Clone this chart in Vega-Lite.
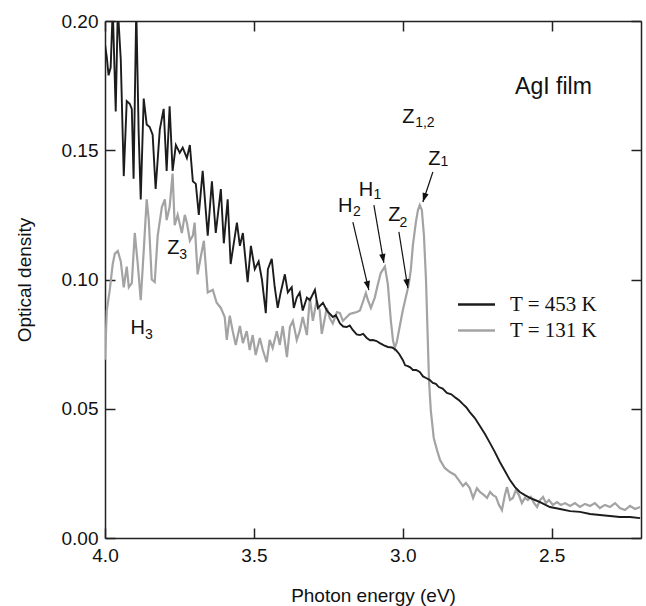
{
  "$schema": "https://vega.github.io/schema/vega-lite/v6.json",
  "width": 536,
  "height": 517,
  "autosize": {"type": "none"},
  "padding": {"left": 105, "top": 21, "right": 5, "bottom": 68},
  "background": "white",
  "config": {
    "view": {"stroke": null},
    "axis": {
      "grid": false,
      "domainColor": "#222",
      "domainWidth": 1.5,
      "tickColor": "#222",
      "tickWidth": 1.5,
      "tickSize": -10,
      "labelFont": "Liberation Sans",
      "labelFontSize": 19,
      "labelColor": "#111",
      "labelFlush": false,
      "titleFont": "Liberation Sans",
      "titleFontSize": 19,
      "titleFontWeight": "normal",
      "titleColor": "#111"
    }
  },
  "datasets": {
    "hot": [
      {"E":4.000,"OD":0.191},{"E":3.994,"OD":0.186},{"E":3.988,"OD":0.179},{"E":3.981,"OD":0.182},{"E":3.974,"OD":0.205},
      {"E":3.964,"OD":0.165},{"E":3.957,"OD":0.205},{"E":3.947,"OD":0.185},{"E":3.937,"OD":0.140},{"E":3.927,"OD":0.169},
      {"E":3.917,"OD":0.168},{"E":3.910,"OD":0.166},{"E":3.904,"OD":0.139},{"E":3.895,"OD":0.205},{"E":3.887,"OD":0.157},
      {"E":3.880,"OD":0.131},{"E":3.870,"OD":0.170},{"E":3.860,"OD":0.160},{"E":3.850,"OD":0.159},{"E":3.840,"OD":0.156},
      {"E":3.830,"OD":0.135},{"E":3.816,"OD":0.158},{"E":3.803,"OD":0.166},{"E":3.793,"OD":0.142},{"E":3.783,"OD":0.167},
      {"E":3.773,"OD":0.142},{"E":3.762,"OD":0.152},{"E":3.749,"OD":0.149},{"E":3.739,"OD":0.151},{"E":3.725,"OD":0.147},
      {"E":3.715,"OD":0.152},{"E":3.705,"OD":0.138},{"E":3.695,"OD":0.137},{"E":3.685,"OD":0.125},{"E":3.672,"OD":0.142},
      {"E":3.655,"OD":0.117},{"E":3.641,"OD":0.138},{"E":3.628,"OD":0.118},{"E":3.611,"OD":0.135},{"E":3.601,"OD":0.114},
      {"E":3.588,"OD":0.131},{"E":3.578,"OD":0.106},{"E":3.557,"OD":0.122},{"E":3.547,"OD":0.113},{"E":3.537,"OD":0.118},
      {"E":3.521,"OD":0.099},{"E":3.510,"OD":0.113},{"E":3.497,"OD":0.104},{"E":3.484,"OD":0.107},{"E":3.473,"OD":0.100},
      {"E":3.460,"OD":0.087},{"E":3.453,"OD":0.104},{"E":3.440,"OD":0.108},{"E":3.430,"OD":0.097},{"E":3.420,"OD":0.089},
      {"E":3.410,"OD":0.095},{"E":3.396,"OD":0.102},{"E":3.386,"OD":0.095},{"E":3.373,"OD":0.097},{"E":3.366,"OD":0.089},
      {"E":3.356,"OD":0.093},{"E":3.346,"OD":0.095},{"E":3.336,"OD":0.088},{"E":3.322,"OD":0.093},{"E":3.312,"OD":0.092},
      {"E":3.295,"OD":0.096},{"E":3.285,"OD":0.089},{"E":3.268,"OD":0.091},{"E":3.255,"OD":0.088},{"E":3.235,"OD":0.0855},
      {"E":3.225,"OD":0.0862},{"E":3.211,"OD":0.083},{"E":3.200,"OD":0.0818},{"E":3.188,"OD":0.0816},{"E":3.178,"OD":0.0822},
      {"E":3.168,"OD":0.0805},{"E":3.155,"OD":0.0788},{"E":3.144,"OD":0.0785},{"E":3.133,"OD":0.0790},{"E":3.121,"OD":0.0774},
      {"E":3.110,"OD":0.0765},{"E":3.100,"OD":0.0766},{"E":3.088,"OD":0.0762},{"E":3.077,"OD":0.0754},{"E":3.063,"OD":0.0745},
      {"E":3.050,"OD":0.0739},{"E":3.036,"OD":0.0737},{"E":3.023,"OD":0.0727},{"E":3.012,"OD":0.0712},{"E":3.000,"OD":0.0689},
      {"E":2.992,"OD":0.0668},{"E":2.983,"OD":0.0665},{"E":2.975,"OD":0.0660},{"E":2.966,"OD":0.065},{"E":2.955,"OD":0.0650},
      {"E":2.943,"OD":0.0642},{"E":2.932,"OD":0.0625},{"E":2.922,"OD":0.0619},{"E":2.910,"OD":0.0612},{"E":2.899,"OD":0.060},
      {"E":2.889,"OD":0.0596},{"E":2.879,"OD":0.0584},{"E":2.866,"OD":0.0578},{"E":2.852,"OD":0.0561},{"E":2.837,"OD":0.0556},
      {"E":2.822,"OD":0.0542},{"E":2.810,"OD":0.0532},{"E":2.798,"OD":0.0518},{"E":2.787,"OD":0.0506},{"E":2.775,"OD":0.0487},
      {"E":2.758,"OD":0.0464},{"E":2.741,"OD":0.0433},{"E":2.724,"OD":0.0402},{"E":2.707,"OD":0.0367},{"E":2.691,"OD":0.0333},
      {"E":2.674,"OD":0.0294},{"E":2.657,"OD":0.0259},{"E":2.640,"OD":0.0224},{"E":2.623,"OD":0.0197},{"E":2.607,"OD":0.0178},
      {"E":2.590,"OD":0.0166},{"E":2.573,"OD":0.0155},{"E":2.556,"OD":0.0147},{"E":2.539,"OD":0.0139},{"E":2.506,"OD":0.0120},
      {"E":2.472,"OD":0.0112},{"E":2.438,"OD":0.0104},{"E":2.405,"OD":0.0101},{"E":2.371,"OD":0.0093},{"E":2.338,"OD":0.0089},
      {"E":2.304,"OD":0.0085},{"E":2.271,"OD":0.0081},{"E":2.237,"OD":0.0081},{"E":2.203,"OD":0.0077}
    ],
    "cold": [
      {"E":4.000,"OD":0.069},{"E":3.994,"OD":0.088},{"E":3.984,"OD":0.096},{"E":3.974,"OD":0.106},{"E":3.967,"OD":0.110},
      {"E":3.957,"OD":0.111},{"E":3.947,"OD":0.107},{"E":3.937,"OD":0.097},{"E":3.927,"OD":0.105},{"E":3.920,"OD":0.097},
      {"E":3.910,"OD":0.0986},{"E":3.900,"OD":0.118},{"E":3.890,"OD":0.106},{"E":3.880,"OD":0.092},{"E":3.870,"OD":0.111},
      {"E":3.860,"OD":0.131},{"E":3.853,"OD":0.123},{"E":3.843,"OD":0.100},{"E":3.833,"OD":0.099},{"E":3.823,"OD":0.117},
      {"E":3.809,"OD":0.128},{"E":3.799,"OD":0.131},{"E":3.793,"OD":0.123},{"E":3.783,"OD":0.128},{"E":3.773,"OD":0.141},
      {"E":3.766,"OD":0.121},{"E":3.756,"OD":0.125},{"E":3.742,"OD":0.118},{"E":3.732,"OD":0.125},{"E":3.725,"OD":0.122},
      {"E":3.715,"OD":0.115},{"E":3.705,"OD":0.117},{"E":3.699,"OD":0.122},{"E":3.689,"OD":0.102},{"E":3.678,"OD":0.109},
      {"E":3.668,"OD":0.115},{"E":3.655,"OD":0.095},{"E":3.638,"OD":0.096},{"E":3.625,"OD":0.091},{"E":3.611,"OD":0.089},
      {"E":3.598,"OD":0.0855},{"E":3.591,"OD":0.0766},{"E":3.581,"OD":0.086},{"E":3.571,"OD":0.080},{"E":3.561,"OD":0.0747},
      {"E":3.547,"OD":0.082},{"E":3.537,"OD":0.0754},{"E":3.524,"OD":0.080},{"E":3.514,"OD":0.0727},{"E":3.504,"OD":0.0785},
      {"E":3.494,"OD":0.0708},{"E":3.480,"OD":0.0774},{"E":3.470,"OD":0.0727},{"E":3.457,"OD":0.068},{"E":3.447,"OD":0.0766},
      {"E":3.437,"OD":0.0735},{"E":3.423,"OD":0.080},{"E":3.413,"OD":0.0747},{"E":3.403,"OD":0.082},{"E":3.389,"OD":0.070},
      {"E":3.379,"OD":0.0816},{"E":3.369,"OD":0.084},{"E":3.356,"OD":0.0766},{"E":3.346,"OD":0.080},{"E":3.336,"OD":0.0855},
      {"E":3.322,"OD":0.0785},{"E":3.312,"OD":0.093},{"E":3.302,"OD":0.084},{"E":3.289,"OD":0.092},{"E":3.279,"OD":0.088},
      {"E":3.272,"OD":0.079},{"E":3.255,"OD":0.089},{"E":3.245,"OD":0.085},{"E":3.235,"OD":0.083},{"E":3.221,"OD":0.0874},
      {"E":3.211,"OD":0.087},{"E":3.201,"OD":0.084},{"E":3.188,"OD":0.0855},{"E":3.178,"OD":0.0867},{"E":3.168,"OD":0.087},
      {"E":3.154,"OD":0.0874},{"E":3.144,"OD":0.088},{"E":3.134,"OD":0.0913},{"E":3.124,"OD":0.0948},{"E":3.117,"OD":0.092},
      {"E":3.107,"OD":0.089},{"E":3.094,"OD":0.093},{"E":3.084,"OD":0.098},{"E":3.074,"OD":0.1025},{"E":3.060,"OD":0.105},
      {"E":3.050,"OD":0.098},{"E":3.040,"OD":0.084},{"E":3.033,"OD":0.0766},{"E":3.027,"OD":0.0735},{"E":3.020,"OD":0.0758},
      {"E":3.010,"OD":0.082},{"E":3.000,"OD":0.088},{"E":2.990,"OD":0.093},{"E":2.980,"OD":0.098},{"E":2.973,"OD":0.1037},
      {"E":2.966,"OD":0.1133},{"E":2.956,"OD":0.1222},{"E":2.949,"OD":0.1269},{"E":2.943,"OD":0.1288},{"E":2.936,"OD":0.1269},
      {"E":2.929,"OD":0.1172},{"E":2.922,"OD":0.0998},{"E":2.916,"OD":0.0766},{"E":2.912,"OD":0.0611},{"E":2.906,"OD":0.0495},
      {"E":2.896,"OD":0.0387},{"E":2.885,"OD":0.034},{"E":2.875,"OD":0.0302},{"E":2.859,"OD":0.0271},{"E":2.842,"OD":0.0255},
      {"E":2.825,"OD":0.0244},{"E":2.812,"OD":0.0224},{"E":2.798,"OD":0.0201},{"E":2.788,"OD":0.0213},{"E":2.775,"OD":0.0193},
      {"E":2.764,"OD":0.0155},{"E":2.751,"OD":0.0193},{"E":2.741,"OD":0.0178},{"E":2.727,"OD":0.0166},{"E":2.717,"OD":0.0155},
      {"E":2.707,"OD":0.0178},{"E":2.697,"OD":0.0166},{"E":2.687,"OD":0.0159},{"E":2.677,"OD":0.0128},{"E":2.667,"OD":0.0108},
      {"E":2.657,"OD":0.0166},{"E":2.650,"OD":0.0197},{"E":2.640,"OD":0.0147},{"E":2.630,"OD":0.0155},{"E":2.620,"OD":0.0186},
      {"E":2.610,"OD":0.0166},{"E":2.600,"OD":0.0135},{"E":2.590,"OD":0.0155},{"E":2.580,"OD":0.0147},{"E":2.570,"OD":0.0159},
      {"E":2.559,"OD":0.0135},{"E":2.549,"OD":0.012},{"E":2.539,"OD":0.0147},{"E":2.529,"OD":0.0159},{"E":2.519,"OD":0.0135},
      {"E":2.509,"OD":0.0147},{"E":2.496,"OD":0.0128},{"E":2.482,"OD":0.0139},{"E":2.469,"OD":0.0128},{"E":2.455,"OD":0.0135},
      {"E":2.438,"OD":0.0124},{"E":2.422,"OD":0.0135},{"E":2.405,"OD":0.012},{"E":2.388,"OD":0.0132},{"E":2.371,"OD":0.0124},
      {"E":2.355,"OD":0.0135},{"E":2.338,"OD":0.0116},{"E":2.321,"OD":0.0128},{"E":2.304,"OD":0.012},{"E":2.287,"OD":0.0135},
      {"E":2.271,"OD":0.0116},{"E":2.254,"OD":0.0108},{"E":2.237,"OD":0.0124},{"E":2.220,"OD":0.0112},{"E":2.203,"OD":0.012}
    ],
    "arrows": [
      {"name":"Z1","E":2.899,"OD":0.1416,"E2":2.9325,"OD2":0.130},
      {"name":"H1","E":3.097,"OD":0.1288,"E2":3.0635,"OD2":0.1064},
      {"name":"H2","E":3.1676,"OD":0.1222,"E2":3.1139,"OD2":0.0959},
      {"name":"Z2","E":3.0131,"OD":0.1184,"E2":2.9829,"OD2":0.0967}
    ],
    "letters": [
      {"E":2.894,"OD":0.1468,"text":"Z"},
      {"E":3.124,"OD":0.1348,"text":"H"},
      {"E":3.1929,"OD":0.1286,"text":"H"},
      {"E":3.0282,"OD":0.1248,"text":"Z"},
      {"E":2.9812,"OD":0.1627,"text":"Z"},
      {"E":3.7708,"OD":0.1120,"text":"Z"},
      {"E":3.890,"OD":0.0814,"text":"H"}
    ],
    "subs": [
      {"E":2.860,"OD":0.1453,"text":"1"},
      {"E":3.0853,"OD":0.1327,"text":"1"},
      {"E":3.1542,"OD":0.1263,"text":"2"},
      {"E":2.998,"OD":0.1220,"text":"2"},
      {"E":2.9257,"OD":0.1607,"text":"1,2"},
      {"E":3.7372,"OD":0.1095,"text":"3"},
      {"E":3.853,"OD":0.0787,"text":"3"}
    ],
    "title": [{"E":2.494,"OD":0.1718,"text":"AgI film"}]
  },
  "layer": [
    {
      "data": {"name": "cold"},
      "mark": {"type": "line", "strokeWidth": 2.2, "clip": true},
      "encoding": {
        "x": {"field": "E", "type": "quantitative",
              "scale": {"domain": [4.0, 2.2], "nice": false, "zero": false},
              "axis": {"orient": "bottom", "values": [4.0, 3.5, 3.0, 2.5], "format": ".1f", "labelPadding": 18, "title": "Photon energy (eV)", "titlePadding": 21}},
        "y": {"field": "OD", "type": "quantitative",
              "scale": {"domain": [0, 0.2], "nice": false, "zero": false},
              "axis": {"orient": "left", "values": [0, 0.05, 0.1, 0.15, 0.2], "format": ".2f", "labelPadding": 17, "title": "Optical density", "titlePadding": 27}},
        "color": {"datum": "T = 131 K", "type": "nominal",
                  "scale": {"domain": ["T = 453 K", "T = 131 K"], "range": ["#1c1c1c", "#a3a3a3"]},
                  "legend": {"orient": "none", "legendX": 361, "legendY": 273, "title": null, "padding": 0,
                             "symbolType": "M-2,0H2", "symbolSize": 342, "symbolStrokeWidth": 2.5,
                             "labelFont": "Liberation Serif", "labelFontSize": 21, "labelColor": "#111", "labelOffset": 23, "rowPadding": 4}}
      }
    },
    {
      "data": {"name": "hot"},
      "mark": {"type": "line", "strokeWidth": 1.9, "clip": true},
      "encoding": {
        "x": {"field": "E", "type": "quantitative", "axis": null},
        "y": {"field": "OD", "type": "quantitative", "axis": null},
        "color": {"datum": "T = 453 K", "type": "nominal"}
      }
    },
    {
      "data": {"name": "arrows"},
      "mark": {"type": "rule", "color": "#111", "strokeWidth": 1.2},
      "encoding": {
        "x": {"field": "E", "type": "quantitative", "axis": {"orient": "top", "values": [4.0, 3.5, 3.0, 2.5], "labels": false, "title": null}},
        "y": {"field": "OD", "type": "quantitative", "axis": {"orient": "right", "values": [0, 0.05, 0.1, 0.15, 0.2], "labels": false, "title": null}},
        "x2": {"field": "E2"},
        "y2": {"field": "OD2"}
      }
    },
    {
      "data": {"name": "arrows"},
      "transform": [{"filter": "datum.name == 'Z1'"}],
      "mark": {"type": "point", "shape": "M0,0L-0.35,-1L0.35,-1Z", "size": 324, "filled": true, "color": "#111", "opacity": 1, "angle": 18},
      "encoding": {"x": {"field": "E2", "type": "quantitative", "axis": null}, "y": {"field": "OD2", "type": "quantitative", "axis": null}}
    },
    {
      "data": {"name": "arrows"},
      "transform": [{"filter": "datum.name == 'H1'"}],
      "mark": {"type": "point", "shape": "M0,0L-0.35,-1L0.35,-1Z", "size": 324, "filled": true, "color": "#111", "opacity": 1, "angle": 350},
      "encoding": {"x": {"field": "E2", "type": "quantitative", "axis": null}, "y": {"field": "OD2", "type": "quantitative", "axis": null}}
    },
    {
      "data": {"name": "arrows"},
      "transform": [{"filter": "datum.name == 'H2'"}],
      "mark": {"type": "point", "shape": "M0,0L-0.35,-1L0.35,-1Z", "size": 324, "filled": true, "color": "#111", "opacity": 1, "angle": 347},
      "encoding": {"x": {"field": "E2", "type": "quantitative", "axis": null}, "y": {"field": "OD2", "type": "quantitative", "axis": null}}
    },
    {
      "data": {"name": "arrows"},
      "transform": [{"filter": "datum.name == 'Z2'"}],
      "mark": {"type": "point", "shape": "M0,0L-0.35,-1L0.35,-1Z", "size": 324, "filled": true, "color": "#111", "opacity": 1, "angle": 351},
      "encoding": {"x": {"field": "E2", "type": "quantitative", "axis": null}, "y": {"field": "OD2", "type": "quantitative", "axis": null}}
    },
    {
      "data": {"name": "letters"},
      "mark": {"type": "text", "font": "Liberation Sans", "fontSize": 20, "color": "#111", "align": "center", "baseline": "middle"},
      "encoding": {"x": {"field": "E", "type": "quantitative", "axis": null}, "y": {"field": "OD", "type": "quantitative", "axis": null}, "text": {"field": "text"}}
    },
    {
      "data": {"name": "subs"},
      "mark": {"type": "text", "font": "Liberation Sans", "fontSize": 14, "color": "#111", "align": "center", "baseline": "middle"},
      "encoding": {"x": {"field": "E", "type": "quantitative", "axis": null}, "y": {"field": "OD", "type": "quantitative", "axis": null}, "text": {"field": "text"}}
    },
    {
      "data": {"name": "title"},
      "mark": {"type": "text", "font": "Liberation Sans", "fontSize": 23, "color": "#111", "align": "center", "baseline": "alphabetic"},
      "encoding": {"x": {"field": "E", "type": "quantitative", "axis": null}, "y": {"field": "OD", "type": "quantitative", "axis": null}, "text": {"field": "text"}}
    }
  ]
}
